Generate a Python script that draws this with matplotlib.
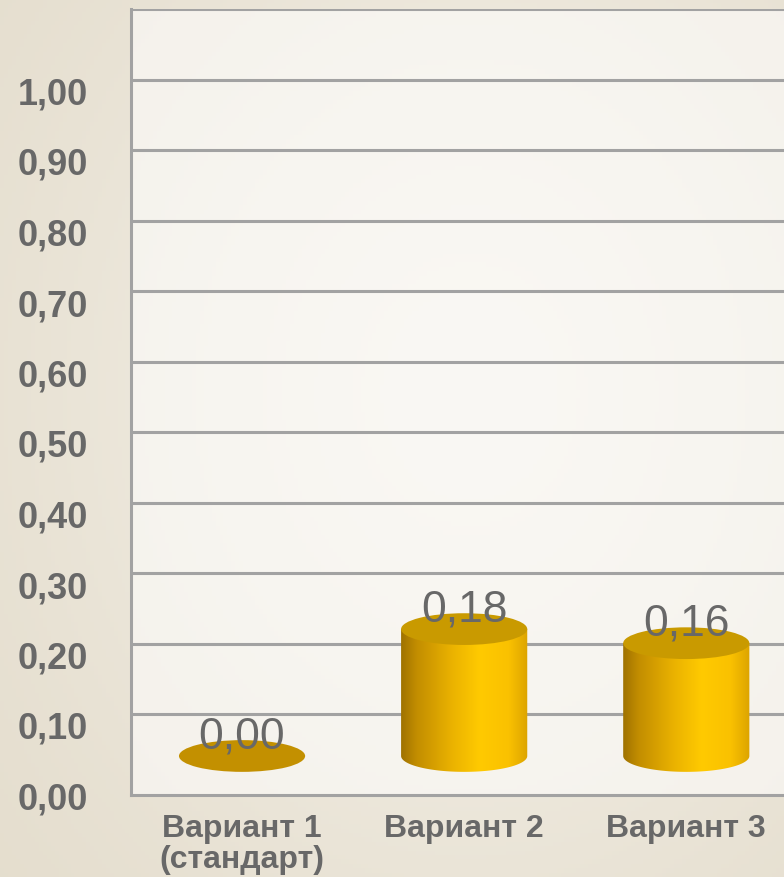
import numpy as np
import matplotlib
matplotlib.use("Agg")
import matplotlib.pyplot as plt
from matplotlib.patches import Ellipse, PathPatch
from matplotlib.path import Path
from matplotlib.colors import LinearSegmentedColormap
from matplotlib.transforms import ScaledTranslation, blended_transform_factory

# ---- data ----
categories = ["Вариант 1\n(стандарт)", "Вариант 2", "Вариант 3"]
values = [0.00, 0.18, 0.16]
tick_values = [0.0, 0.1, 0.2, 0.3, 0.4, 0.5, 0.6, 0.7, 0.8, 0.9, 1.0]

# ---- style ----
FONT = "Liberation Sans"
TEXT = "#686868"
GRID = "#a2a2a2"
DEPTH = 0.02        # back-wall offset of gridlines (value units)
BASE = 0.061        # floor level where cylinders stand
BAR_W = 0.568
ELL_H = 0.045

fig = plt.figure(figsize=(7.84, 8.78), dpi=100)
fig.patch.set_facecolor("#ebe5d7")

# soft parchment background
bg = fig.add_axes([0, 0, 1, 1], zorder=-10)
yy, xx = np.mgrid[0:1:200j, 0:1:200j]
shade = 0.55 + 0.45 * np.exp(-(((xx - 0.6) / 0.6) ** 2 + ((yy - 0.45) / 0.65) ** 2))
bg_cmap = LinearSegmentedColormap.from_list("parch", ["#e0d8c6", "#f3efe6"])
bg.imshow(shade, cmap=bg_cmap, aspect="auto", extent=[0, 1, 0, 1], vmin=0.5, vmax=1.0)
bg.axis("off")

W, H = 784, 878
ax = fig.add_axes([131 / W, 82 / H, 1 - 131 / W, (868 - 82) / H])
ax.set_facecolor((1, 1, 1, 0.55))

x = np.arange(len(categories))

side_cmap = LinearSegmentedColormap.from_list(
    "gold",
    [(0.0, "#9f7200"), (0.12, "#c28d00"), (0.4, "#eab200"),
     (0.62, "#ffca00"), (0.85, "#fac100"), (1.0, "#dca400")])
grad = np.linspace(0, 1, 256)[None, :]

for xi, v in zip(x, values):
    top = BASE + v
    if v > 0:
        t = np.linspace(np.pi, 2 * np.pi, 80)
        bx = xi + BAR_W / 2 * np.cos(t)
        by = BASE + ELL_H / 2 * np.sin(t)
        verts = [(xi - BAR_W / 2, top)] + list(zip(bx, by)) + [(xi + BAR_W / 2, top), (xi - BAR_W / 2, top)]
        codes = [Path.MOVETO] + [Path.LINETO] * (len(verts) - 2) + [Path.CLOSEPOLY]
        clip = PathPatch(Path(verts, codes), facecolor="none", edgecolor="none",
                         transform=ax.transData)
        ax.add_patch(clip)
        im = ax.imshow(grad, cmap=side_cmap, aspect="auto", zorder=3,
                       extent=[xi - BAR_W / 2, xi + BAR_W / 2, BASE - ELL_H / 2, top])
        im.set_clip_path(clip)
        ax.add_patch(Ellipse((xi, top), BAR_W, ELL_H, facecolor="#c99a00",
                             edgecolor="none", zorder=4))
    else:
        ax.add_patch(Ellipse((xi, top), BAR_W, ELL_H, facecolor="#c39000",
                             edgecolor="none", zorder=4))
    ax.annotate(f"{v:.2f}".replace(".", ","), (xi, top), xytext=(0, 6),
                textcoords="offset points", ha="center", va="baseline",
                fontsize=32, color=TEXT, family=FONT, zorder=6)

# gridlines on the back wall
for tv in tick_values[1:] + [1.1]:
    ax.axhline(tv + DEPTH, color=GRID, lw=2.2, zorder=1)

ax.set_xlim(-0.5, 2.44)
ax.set_ylim((800 - 796) / 705, (800 - 10) / 705)

# value-axis labels (front plane, slightly below the back-wall gridlines)
ax.set_yticks([])
lab_tr = blended_transform_factory(ax.transAxes, ax.transData) + \
    ScaledTranslation(-43 / 100, 0, fig.dpi_scale_trans)
for tv in tick_values:
    ax.text(0, tv, f"{tv:.2f}".replace(".", ","), transform=lab_tr,
            ha="right", va="center", fontsize=26, fontweight="bold",
            color=TEXT, family=FONT, clip_on=False)

ax.set_xticks(x)
ax.set_xticklabels(categories, fontsize=23, fontweight="bold", color=TEXT,
                   family=FONT, linespacing=1.05)
ax.tick_params(axis="x", length=0, pad=13)

for s in ["top", "right"]:
    ax.spines[s].set_visible(False)
for s in ["left", "bottom"]:
    ax.spines[s].set_color(GRID)
    ax.spines[s].set_linewidth(2.2)

fig.savefig("out.png", dpi=100, facecolor=fig.get_facecolor())
